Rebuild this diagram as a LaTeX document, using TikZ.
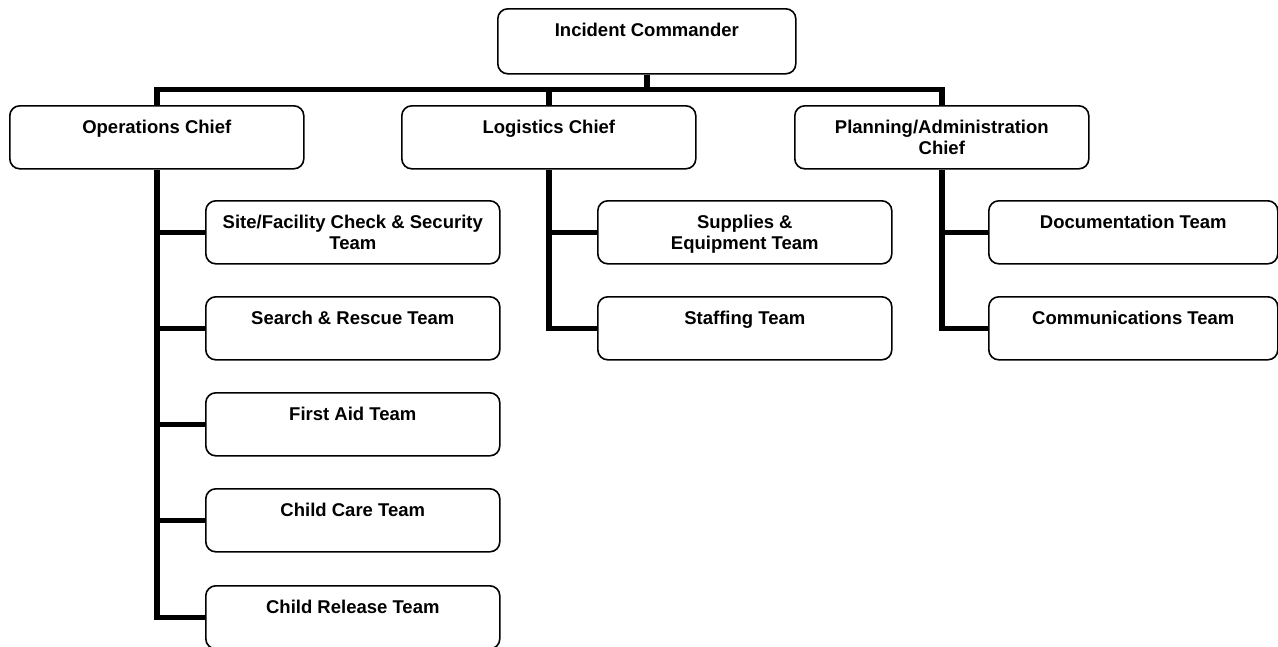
\documentclass[tikz,border=0pt]{standalone}
\usepackage{fontspec}
\setmainfont{Liberation Sans}
\newcommand\boxtxt[3]{\parbox[c][#2][t]{#1}{\centering\rule{0pt}{28pt}#3}}
\tikzset{
  box/.style={draw, line width=1.6pt, rounded corners=10pt, inner sep=0pt, anchor=north west, fill=white,
    font=\bfseries\fontsize{18.5}{20.5}\selectfont},
  conn/.style={line width=5.4pt, line join=miter}
}
\begin{document}
\begin{tikzpicture}[x=1pt, y=-1pt]
\path[use as bounding box, clip] (0,0) rectangle (1278,646);
% top
\node[box] (ic) at (497,8) {\boxtxt{298pt}{65pt}{Incident Commander}};
\node[box] (ops) at (9,105) {\boxtxt{294pt}{63pt}{Operations Chief}};
\node[box] (log) at (401,105) {\boxtxt{294pt}{63pt}{Logistics Chief}};
\node[box] (plan) at (794,105) {\boxtxt{294pt}{63pt}{Planning/Administration\\Chief}};
% operations teams
\node[box] (o1) at (205,200) {\boxtxt{294pt}{63pt}{Site/Facility Check \& Security\\Team}};
\node[box] (o2) at (205,296) {\boxtxt{294pt}{63pt}{Search \& Rescue Team}};
\node[box] (o3) at (205,392) {\boxtxt{294pt}{63pt}{First Aid Team}};
\node[box] (o4) at (205,488) {\boxtxt{294pt}{63pt}{Child Care Team}};
\node[box] (o5) at (205,585) {\boxtxt{294pt}{63pt}{Child Release Team}};
% logistics teams
\node[box] (l1) at (597,200) {\boxtxt{294pt}{63pt}{Supplies \&\\Equipment Team}};
\node[box] (l2) at (597,296) {\boxtxt{294pt}{63pt}{Staffing Team}};
% planning teams
\node[box] (p1) at (988,200) {\boxtxt{289pt}{63pt}{Documentation Team}};
\node[box] (p2) at (988,296) {\boxtxt{289pt}{63pt}{Communications Team}};
% bus
\coordinate (bus) at (0,89.5);
\draw[conn] (ops.north) -- (ops.north |- bus) -- (plan.north |- bus) -- (plan.north);
\draw[conn] (ic.south) -- (ic.south |- bus);
\draw[conn] (log.north) -- (log.north |- bus);
% operations branch
\draw[conn] (ops.south) -- (ops.south |- o5.west) -- (o5.west);
\draw[conn] (ops.south |- o1.west) -- (o1.west);
\draw[conn] (ops.south |- o2.west) -- (o2.west);
\draw[conn] (ops.south |- o3.west) -- (o3.west);
\draw[conn] (ops.south |- o4.west) -- (o4.west);
% logistics branch
\draw[conn] (log.south) -- (log.south |- l2.west) -- (l2.west);
\draw[conn] (log.south |- l1.west) -- (l1.west);
% planning branch
\draw[conn] (plan.south) -- (plan.south |- p2.west) -- (p2.west);
\draw[conn] (plan.south |- p1.west) -- (p1.west);
\end{tikzpicture}
\end{document}
